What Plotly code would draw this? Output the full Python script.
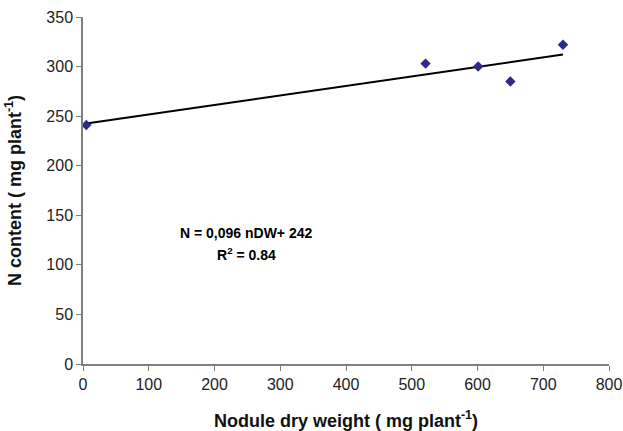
import plotly.graph_objects as go

nodule_dw = [5, 521, 601, 650, 730]
n_content = [241, 303, 300, 285, 322]
slope = 0.096
intercept = 242
fit_x = [5, 730]
fit_y = [intercept + slope * v for v in fit_x]

x_ticks = [0, 100, 200, 300, 400, 500, 600, 700, 800]
y_ticks = [0, 50, 100, 150, 200, 250, 300, 350]

fig = go.Figure()
fig.add_trace(go.Scatter(x=fit_x, y=fit_y, mode="lines",
                         line=dict(color="black", width=2), showlegend=False))
fig.add_trace(go.Scatter(x=nodule_dw, y=n_content, mode="markers",
                         marker=dict(symbol="diamond", size=8, color="#2E2A87"),
                         showlegend=False))

fig.add_annotation(x=248, y=132, xref="x", yref="y",
                   text="<b>N = 0,096 nDW+ 242</b>", showarrow=False,
                   font=dict(size=14, color="black"))
fig.add_annotation(x=248, y=111, xref="x", yref="y",
                   text="<b>R<sup>2</sup> = 0.84</b>", showarrow=False,
                   font=dict(size=14, color="black"))

axis_common = dict(showgrid=False, zeroline=False, showline=True,
                   linecolor="#808080", linewidth=1.5, ticks="outside",
                   ticklen=5, tickcolor="#808080", automargin=False,
                   tickfont=dict(size=16, color="#222"))

fig.update_xaxes(range=[0, 800], tickvals=x_ticks,
                 title=dict(text="<b>Nodule dry weight ( mg plant<sup>-1</sup>)</b>",
                            font=dict(size=18, color="#111"), standoff=22),
                 **axis_common)
fig.update_yaxes(range=[0, 350], tickvals=y_ticks,
                 title=dict(text="<b>N content ( mg plant<sup>-1</sup>)</b>",
                            font=dict(size=18, color="#111"), standoff=20),
                 **axis_common)

fig.update_layout(width=623, height=431,
                  margin=dict(l=83, r=14, t=17, b=67),
                  plot_bgcolor="white", paper_bgcolor="white",
                  font=dict(family="Liberation Sans, Arial, sans-serif"))

fig.write_html("out.html")
